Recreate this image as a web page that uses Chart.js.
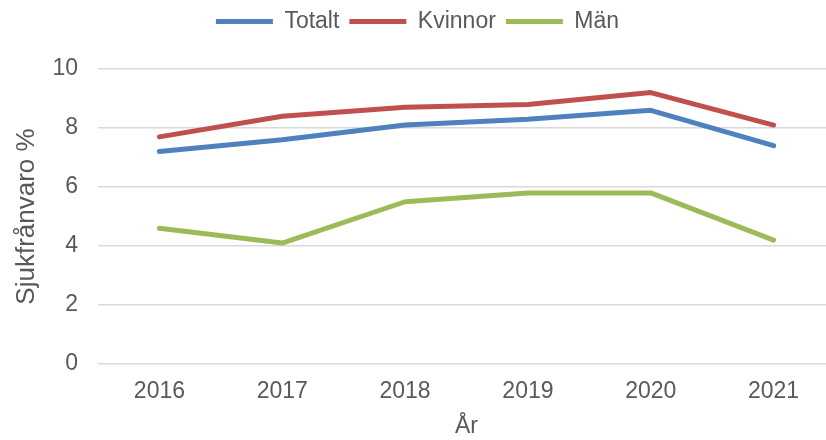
<!DOCTYPE html>
<html>
<head>
<meta charset="utf-8">
<script src="https://cdn.jsdelivr.net/npm/chart.js@4/dist/chart.umd.min.js"></script>
<style>
  html, body { margin: 0; padding: 0; background: #fff; overflow: hidden; }
  /* plot runs a bit past the right edge in the original, so the canvas is wider than the window */
  #wrap { width: 836px; height: 440px; }
</style>
</head>
<body>
<div id="wrap"><canvas id="canvas"></canvas></div>
<script>
let years = ["2016", "2017", "2018", "2019", "2020", "2021"];
let totalt = [7.2, 7.6, 8.1, 8.3, 8.6, 7.4];
let kvinnor = [7.7, 8.4, 8.7, 8.8, 9.2, 8.1];
let man = [4.6, 4.1, 5.5, 5.8, 5.8, 4.2];

let textColor = '#595959';
let font = { family: 'Liberation Sans, Arial, sans-serif', size: 23 };
let titleFont = { family: 'Liberation Sans, Arial, sans-serif', size: 26 };

function lineSet(label, data, color){
  return {
    label: label,
    data: data,
    borderColor: color,
    backgroundColor: color,
    borderWidth: 5,
    borderCapStyle: 'round',
    borderJoinStyle: 'round',
    pointRadius: 0,
    tension: 0,
    fill: false
  };
}

// extra room under the legend
let legendGap = {
  id: 'legendGap',
  beforeInit(chart){
    let fit = chart.legend.fit;
    chart.legend.fit = function(){
      fit.bind(chart.legend)();
      this.height += 26;
    };
  }
};

let ctx = canvas.getContext('2d');
let config = {
  type: 'line',
  data: {
    labels: years,
    datasets: [
      lineSet('Totalt', totalt, '#4F81BD'),
      lineSet('Kvinnor', kvinnor, '#C0504D'),
      lineSet('Män', man, '#9BBB59')
    ]
  },
  options: {
    responsive: true,
    maintainAspectRatio: false,
    animation: false,
    layout: { padding: { left: 0, right: 1, top: 0, bottom: 0 } },
    plugins: {
      tooltip: { enabled: false },
      legend: {
        position: 'top',
        labels: {
          usePointStyle: true,
          pointStyle: 'line',
          pointStyleWidth: 57,
          color: textColor,
          font: font,
          padding: 10
        }
      }
    },
    scales: {
      x: {
        offset: true,
        grid: { display: false, drawTicks: false },
        border: { display: false },
        ticks: { color: textColor, font: font, padding: 14 },
        title: { display: true, text: 'År', color: textColor, font: font, padding: { top: 7, bottom: 0 } },
        afterFit: function(scale){ scale.height = 76; }
      },
      y: {
        min: 0,
        max: 10,
        ticks: { stepSize: 2, color: textColor, font: font, padding: 20 },
        grid: { color: '#d9d9d9', lineWidth: 1.5, drawTicks: false },
        border: { display: false },
        title: { display: true, text: 'Sjukfrånvaro %', color: textColor, font: titleFont, padding: { top: 11, bottom: 0 } },
        afterFit: function(scale){ scale.width = 98; }
      }
    }
  },
  plugins: [legendGap]
};

let chart = new Chart(ctx, config);
</script>
</body>
</html>
